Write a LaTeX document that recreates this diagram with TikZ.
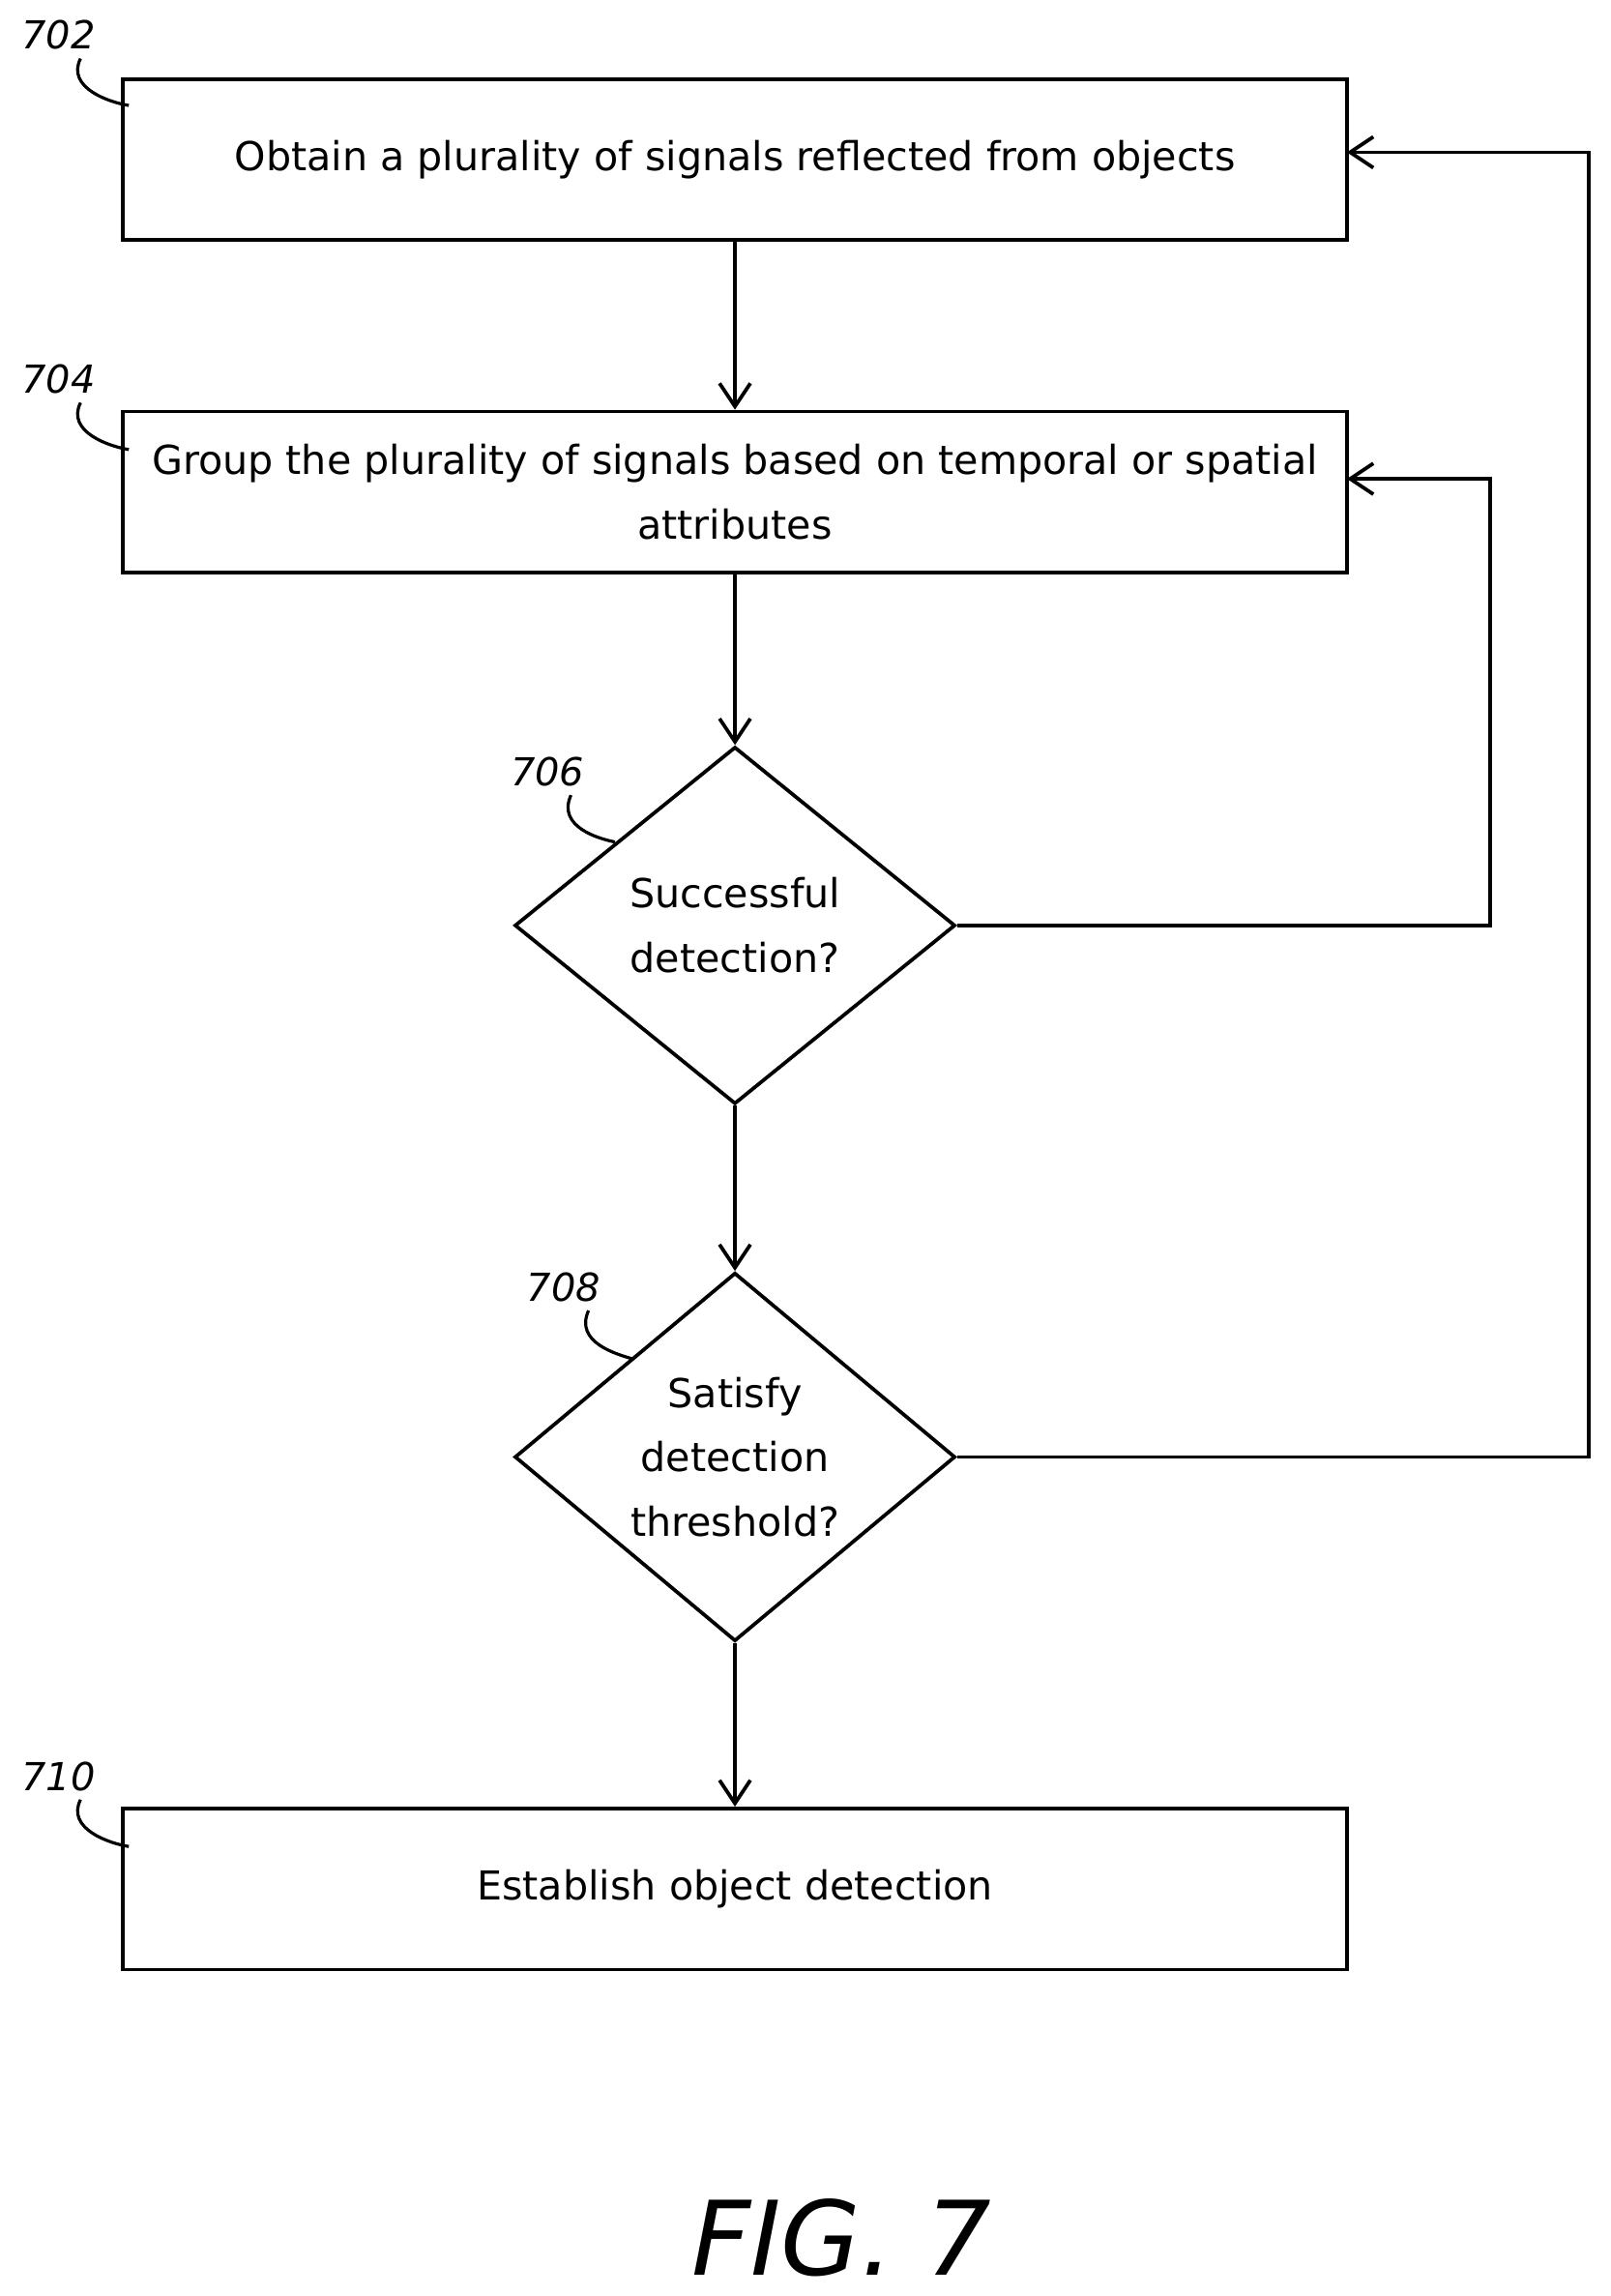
\documentclass[tikz,border=0pt]{standalone}
\usepackage{fontspec}
\setmainfont{DejaVu Sans}
\usetikzlibrary{shapes.geometric,arrows.meta}
\tikzset{
  procbox/.style={draw, line width=1.4pt, rectangle, minimum width=16.72cm, minimum height=2.2cm, align=center, font=\fontsize{15.5}{25}\selectfont},
  test/.style={draw, line width=1.4pt, diamond, minimum width=6.02cm, minimum height=4.88cm, inner sep=0pt, align=center, font=\fontsize{15.5}{25}\selectfont},
  flow/.style={line width=1.4pt, -{Straight Barb[length=9pt,width=12pt,line width=1.4pt]}},
  ref/.style={font=\fontsize{15}{18}\selectfont\itshape},
  lead/.style={line width=1.2pt}
}
\begin{document}
\begin{tikzpicture}[x=0.02cm, y=-0.02cm]
    \useasboundingbox (0,0) rectangle (1100,1568);

    \node[procbox] (obtain) at (502,109) {Obtain a plurality of signals reflected from objects};
    \node[procbox] (group) at (502,336) {Group the plurality of signals based on temporal or spatial\\attributes};
    \node[test] (success) at (502,632) {Successful\\detection?};
    \node[test] (thresh) at (502,995) {Satisfy\\detection\\threshold?};
    \node[procbox] (establish) at (502,1290) {Establish object detection};

    \node[ref] (n702) at (40,24) {702};
    \node[ref] (n704) at (40,259) {704};
    \node[ref] (n706) at (374,527) {706};
    \node[ref] (n708) at (385,879) {708};
    \node[ref] (n710) at (40,1213) {710};
    \node[font=\fontsize{40}{44}\selectfont\itshape] (fig) at (575,1528) {FIG. 7};

    \coordinate (c706) at (420,575);
    \coordinate (c708) at (432,928);
    \coordinate (r704) at (920,327);
    \coordinate (r702) at (920,104);

    \draw [flow] (obtain) -- (group);
    \draw [flow] (group) -- (success);
    \draw [flow] (success) -- (thresh);
    \draw [flow] (thresh) -- (establish);
    \draw [flow] (success.east) -| (1018,327) -- (r704);
    \draw [flow] (thresh.east) -| (1085,104) -- (r702);

    \draw [lead] (55,40) .. controls (45,60) and (75,70) .. (88,72);
    \draw [lead] (55,275) .. controls (45,295) and (75,305) .. (88,307);
    \draw [lead] (55,1229) .. controls (45,1249) and (75,1259) .. (88,1261);
    \draw [lead] (390,543) .. controls (380,565) and (410,573) .. (c706);
    \draw [lead] (402,895) .. controls (392,917) and (422,925) .. (c708);
\end{tikzpicture}
\end{document}
